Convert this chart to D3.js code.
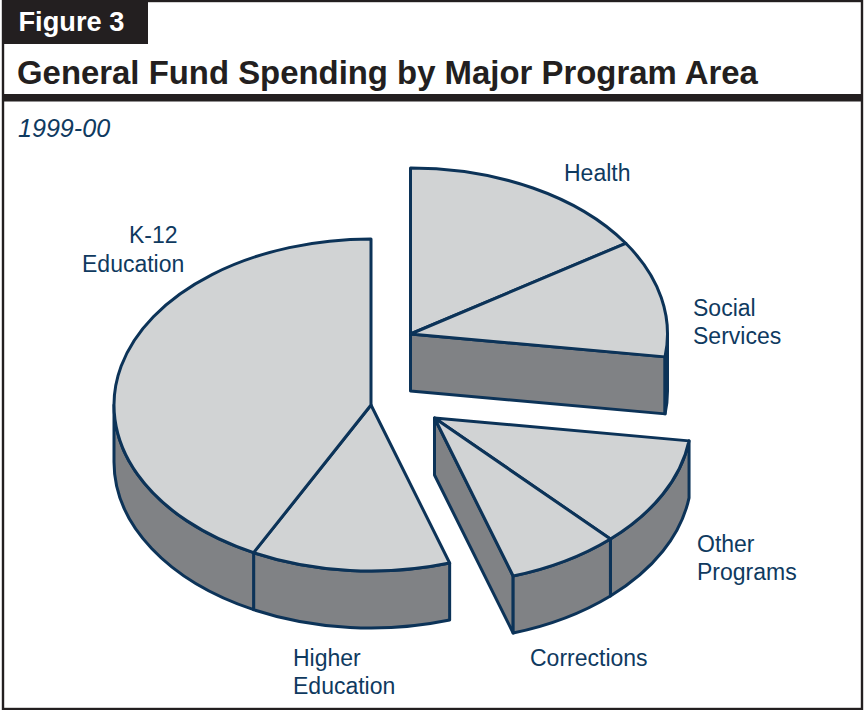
<!DOCTYPE html>
<html>
<head>
<meta charset="utf-8">
<title>General Fund Spending by Major Program Area</title>
<script src="https://cdn.jsdelivr.net/npm/d3@7/dist/d3.min.js"></script>
<style>
  html, body { margin: 0; padding: 0; background: #fff; }
  svg { display: block; font-family: "Liberation Sans", Arial, sans-serif; }
</style>
</head>
<body>
<svg id="chart" width="866" height="710"></svg>
<script>
// Budget shares, listed clockwise from twelve o'clock
const categories = ["Health", "Social Services", "Other Programs", "Corrections", "Higher Education", "K-12 Education"];
const shares = [15.8, 11.4, 10.8, 7.05, 12.5, 42.45];
const wedgeGroups = [2, 2, 3, 3, 1, 1];

const figureLabel = "Figure 3";
const titleText = "General Fund Spending by Major Program Area";
const yearText = "1999-00";

// Layout of the exploded disc
const groupCentres = { 1: [371, 405], 2: [410.5, 334], 3: [434.5, 418] };
const radiusX = 257, radiusY = 166, depth = 57;
const squash = radiusY / radiusX;
const depthUnscaled = depth / squash;

const labelLines = [
  { text: "Health", x: 564, y: 181 },
  { text: "Social", x: 693, y: 316 },
  { text: "Services", x: 693, y: 344 },
  { text: "K-12", x: 129, y: 243 },
  { text: "Education", x: 82, y: 272 },
  { text: "Higher", x: 293, y: 666 },
  { text: "Education", x: 293, y: 694 },
  { text: "Corrections", x: 530, y: 666 },
  { text: "Other", x: 697, y: 552 },
  { text: "Programs", x: 697, y: 580 }
];

const colors = { ink: "#231f20", navy: "#0c3358", top: "#d1d3d4", side: "#808285", text: "#0f3a5f" };
const strokeWidth = 3;

const svg = d3.select("#chart");

// Frame, figure tab and heading
svg.append("rect").attr("x", 3).attr("y", 1).attr("width", 859).attr("height", 708)
  .attr("fill", "none").attr("stroke", colors.ink).attr("stroke-width", 2.4);
svg.append("rect").attr("x", 2).attr("y", 1).attr("width", 146).attr("height", 43).attr("fill", colors.ink);
svg.append("rect").attr("x", 3).attr("y", 94).attr("width", 859).attr("height", 7.5).attr("fill", colors.ink);
svg.append("text").attr("x", 18.5).attr("y", 31).attr("fill", "#fff")
  .attr("font-size", 27.2).attr("font-weight", 700).text(figureLabel);
svg.append("text").attr("x", 17).attr("y", 84).attr("fill", colors.ink)
  .attr("font-size", 32.9).attr("font-weight", 700).text(titleText);
svg.append("text").attr("x", 18).attr("y", 137).attr("fill", colors.text)
  .attr("font-size", 25.1).attr("font-style", "italic").text(yearText);

const pie = d3.pie().sort(null).value(d => d.share);
const slices = pie(categories.map((name, i) => ({ name, share: shares[i], group: wedgeGroups[i] })));

const topArc = d3.arc().innerRadius(0).outerRadius(radiusX);
const HALF = Math.PI / 2, DOWN_RIGHT = Math.PI / 2, DOWN_LEFT = 3 * Math.PI / 2;

// Rim wall for the front-facing part of a wedge, drawn in unsquashed space
function rimPath(a0, a1) {
  const p = d3.path();
  p.moveTo(radiusX * Math.cos(a0 - HALF), radiusX * Math.sin(a0 - HALF));
  p.arc(0, 0, radiusX, a0 - HALF, a1 - HALF, false);
  p.lineTo(radiusX * Math.cos(a1 - HALF), radiusX * Math.sin(a1 - HALF) + depthUnscaled);
  p.arc(0, depthUnscaled, radiusX, a1 - HALF, a0 - HALF, true);
  p.closePath();
  return p.toString();
}

// Flat wall along a cut running from the hub to the rim
function cutPath(a) {
  const p = d3.path();
  const x = radiusX * Math.cos(a - HALF), y = radiusX * Math.sin(a - HALF);
  p.moveTo(0, 0);
  p.lineTo(x, y);
  p.lineTo(x, y + depthUnscaled);
  p.lineTo(0, depthUnscaled);
  p.closePath();
  return p.toString();
}

[1, 2, 3].forEach(g => {
  const members = slices.filter(s => s.data.group === g);
  const [cx, cy] = groupCentres[g];
  const layer = svg.append("g")
    .attr("transform", `translate(${cx},${cy}) scale(1,${squash})`)
    .attr("stroke", colors.navy).attr("stroke-width", strokeWidth).attr("stroke-linejoin", "round");

  const style = sel => sel.attr("vector-effect", "non-scaling-stroke");

  // The cut on the trailing edge shows only while it faces the viewer
  const groupEnd = d3.max(members, s => s.endAngle);
  if (Math.sin(groupEnd) > 0 && Math.cos(groupEnd) < 0.9 && groupEnd < Math.PI) {
    layer.append("path").attr("d", cutPath(groupEnd)).attr("fill", colors.side).call(style);
  }

  members.forEach(s => {
    const a0 = Math.max(s.startAngle, DOWN_RIGHT), a1 = Math.min(s.endAngle, DOWN_LEFT);
    if (a1 > a0) layer.append("path").attr("d", rimPath(a0, a1)).attr("fill", colors.side).call(style);
  });

  layer.selectAll("path.top").data(members).join("path")
    .attr("class", "top")
    .attr("d", d => topArc(d))
    .attr("fill", colors.top)
    .call(style);
});

// Category labels
svg.append("g").selectAll("text").data(labelLines).join("text")
  .attr("x", d => d.x).attr("y", d => d.y)
  .attr("fill", colors.text).attr("font-size", 23)
  .text(d => d.text);
</script>
</body>
</html>
